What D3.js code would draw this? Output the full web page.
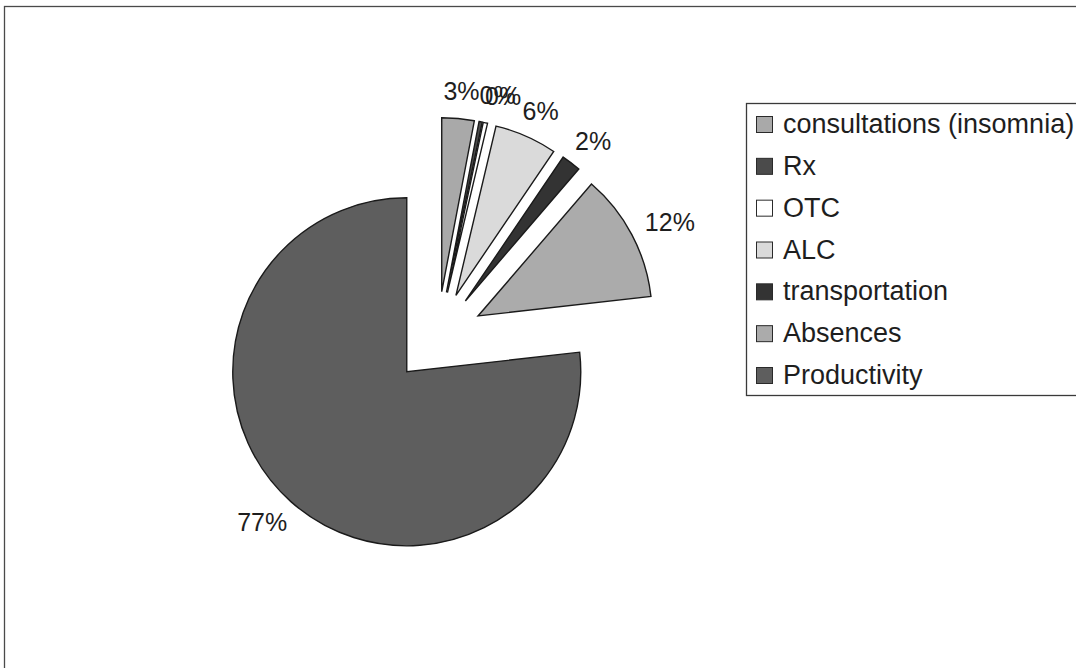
<!DOCTYPE html>
<html>
<head>
<meta charset="utf-8">
<script src="https://cdn.jsdelivr.net/npm/d3@7"></script>
<style>
  body { margin: 0; background: #fff; }
  svg text { font-family: "Liberation Sans", Arial, sans-serif; fill: #1e1e1e; }
</style>
</head>
<body>
<div id="chart"></div>
<script>
// categories and shares (percent of total cost)
const categories = ["consultations (insomnia)", "Rx", "OTC", "ALC", "transportation", "Absences", "Productivity"]
const shares = [3.0, 0.3, 0.4, 5.8, 1.8, 11.9, 76.8]
const fills = ["#a9a9a9", "#4b4b4b", "#ffffff", "#dadada", "#333333", "#ababab", "#5e5e5e"]

const width = 1076, height = 668
const config = {
    cx: 437.4, cy: 337.5, radius: 174,
    explode: 46,      // every slice pulled out by the same distance
    labelGap: 18,
    legend: {x: 746, top: 103, bottom: 395, right: 1090, swatch: 16}
}

const svg = d3.select('#chart').append('svg')
    .attr('width', width)
    .attr('height', height)

// chart area frame (right / bottom edges fall outside the picture)
svg.append('rect')
    .attr('x', 4.5).attr('y', 6.5)
    .attr('width', width + 20).attr('height', height + 20)
    .style('fill', 'none')
    .style('stroke', '#4a4a4a')
    .style('stroke-width', 1.3)

const data = categories.map((c, i) => ({name: c, value: shares[i], fill: fills[i]}))

const pie = d3.pie()
    .sort(null)
    .value(d => d.value)
    .startAngle(0)
    .endAngle(2 * Math.PI)

const arc = d3.arc()
    .innerRadius(0)
    .outerRadius(config.radius)

const color = d3.scaleOrdinal().domain(categories).range(fills)

const arcs = pie(data)
const mid = d => (d.startAngle + d.endAngle) / 2
const offset = d => [config.explode * Math.sin(mid(d)), -config.explode * Math.cos(mid(d))]

const g = svg.append('g')
    .attr('transform', `translate(${config.cx}, ${config.cy})`)

const slices = g.selectAll('g.slice')
    .data(arcs)
    .join('g')
    .attr('class', 'slice')
    .attr('transform', d => `translate(${offset(d)})`)

slices.append('path')
    .attr('d', arc)
    .style('fill', d => color(d.data.name))
    .style('stroke', '#1a1a1a')
    .style('stroke-width', 1.4)
    .style('stroke-linejoin', 'miter')

// percentage labels, placed just outside each slice, box pushed away from the pie
const labels = g.selectAll('text.pct')
    .data(arcs)
    .join('text')
    .attr('class', 'pct')
    .text(d => Math.round(d.data.value) + '%')
    .style('font-size', '25px')
    .attr('text-anchor', 'middle')
    .attr('dominant-baseline', 'central')

const boxH = 19
const boxes = []
labels.each(function(d) {
    const a = mid(d), [ox, oy] = offset(d)
    const r = config.radius + config.labelGap
    const w = this.getComputedTextLength()
    const x = ox + r * Math.sin(a) + Math.sin(a) * w / 2
    const y = oy - r * Math.cos(a) - Math.cos(a) * boxH / 2
    boxes.push({x, y, w, text: d3.select(this).text(), node: this})
})

// crude overlap pass: push a crowded label to the right of the one before it,
// and carry that push along the run of labels that crowd each other
const hits = (a, b, ax) => Math.abs(ax - b.x) < (a.w + b.w) / 2 && Math.abs(a.y - b.y) < boxH
let carry = 0
const placed = []
boxes.forEach((b, i) => {
    let x = b.x
    if (i > 0 && hits(b, boxes[i - 1], b.x)) x += carry
    else carry = 0
    placed.forEach(p => {
        if (p.text !== b.text && hits(b, p, x)) {
            const need = (p.x + p.w / 2) - (x - b.w / 2)
            x += need
            carry += need
        }
    })
    placed.push({x, y: b.y, w: b.w, text: b.text})
    d3.select(b.node).attr('x', x).attr('y', b.y)
})

// legend
const L = config.legend
const legend = svg.append('g')

legend.append('rect')
    .attr('x', L.x + 0.5).attr('y', L.top + 0.5)
    .attr('width', L.right - L.x).attr('height', L.bottom - L.top)
    .style('fill', '#fff')
    .style('stroke', '#3a3a3a')
    .style('stroke-width', 1.3)

const ly = d3.scalePoint()
    .domain(categories)
    .range([L.top + 21, L.bottom - 20])

const items = legend.selectAll('g.item')
    .data(data)
    .join('g')
    .attr('class', 'item')
    .attr('transform', d => `translate(${L.x + 10}, ${ly(d.name)})`)

items.append('rect')
    .attr('x', 0.5).attr('y', -L.swatch / 2 + 0.5)
    .attr('width', L.swatch).attr('height', L.swatch)
    .style('fill', d => color(d.name))
    .style('stroke', '#2a2a2a')
    .style('stroke-width', 1)

items.append('text')
    .attr('x', 27)
    .attr('y', 0)
    .attr('dominant-baseline', 'central')
    .style('font-size', '27px')
    .text(d => d.name)
</script>
</body>
</html>
